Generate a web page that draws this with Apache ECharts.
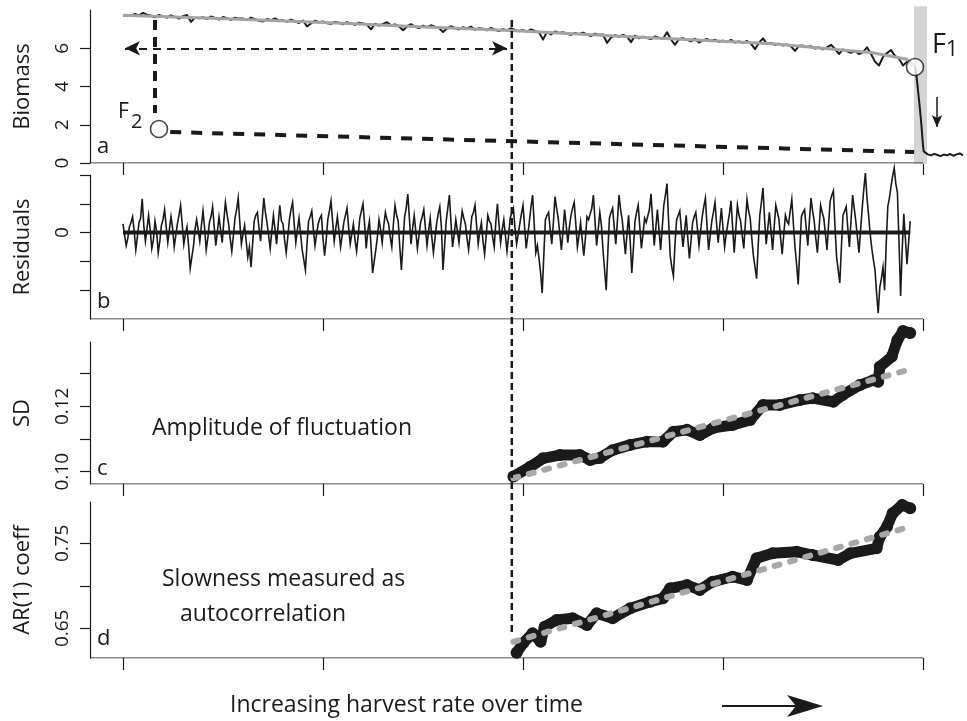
<!DOCTYPE html>
<html>
<head>
<meta charset="utf-8">
<script src="https://cdn.jsdelivr.net/npm/echarts@6/dist/echarts.min.js"></script>
<style>
  html, body { margin: 0; padding: 0; background: #fff; }
  #chart { width: 967px; height: 721px; }
</style>
</head>
<body>
<div id="chart"></div>
<script>
// ---- data ---------------------------------------------------------------
// time axis: harvest-rate steps; ticks every 250 steps
const xTicks = [0, 250, 500, 750, 1000];

// panel a: biomass sampled every 5 steps from t = 0 to t = 990
const biomassStep = 5;
const biomass = [
  7.70, 7.74, 7.68, 7.80, 7.72, 7.85, 7.76, 7.70, 7.62, 7.74,
  7.66, 7.60, 7.72, 7.64, 7.55, 7.68, 7.74, 7.38, 7.60, 7.57,
  7.62, 7.54, 7.66, 7.58, 7.50, 7.63, 7.57, 7.48, 7.60, 7.55,
  7.56, 7.47, 7.60, 7.52, 7.44, 7.40, 7.53, 7.47, 7.56, 7.44,
  7.46, 7.38, 7.50, 7.41, 7.32, 7.45, 7.14, 7.30, 7.44, 7.36,
  7.40, 7.31, 7.28, 7.38, 7.33, 7.25, 7.36, 7.30, 7.22, 7.34,
  7.30, 7.22, 6.99, 7.28, 7.18, 7.27, 7.36, 7.20, 7.24, 7.15,
  6.94, 7.14, 7.26, 7.12, 7.05, 7.18, 7.10, 7.20, 7.13, 7.06,
  6.85, 7.03, 7.15, 7.06, 6.98, 7.10, 7.04, 7.13, 6.96, 7.05,
  7.02, 6.94, 7.06, 6.97, 6.90, 7.00, 6.93, 7.04, 6.96, 6.89,
  6.95, 6.87, 6.98, 6.90, 6.84, 6.45, 6.86, 6.72, 6.88, 6.80,
  6.84, 6.76, 6.70, 6.80, 6.74, 6.82, 6.72, 6.64, 6.76, 6.70,
  6.72, 6.28, 6.55, 6.68, 6.60, 6.70, 6.62, 6.32, 6.66, 6.52,
  6.60, 6.54, 6.48, 6.62, 6.55, 6.50, 6.84, 6.46, 6.18, 6.49,
  6.52, 6.44, 6.36, 6.50, 6.30, 6.42, 6.48, 6.38, 6.44, 6.34,
  6.40, 6.32, 6.44, 6.30, 6.36, 6.28, 6.38, 6.24, 5.95, 6.29,
  6.52, 6.22, 6.28, 6.18, 6.24, 6.14, 6.20, 6.10, 5.86, 6.13,
  6.14, 6.06, 6.10, 5.98, 6.04, 5.94, 6.05, 6.18, 5.96, 5.70,
  5.94, 5.84, 5.76, 5.86, 5.70, 5.80, 6.05, 5.70, 5.30, 5.10,
  5.55, 5.75, 5.90, 5.60, 5.45, 5.10, 5.30, 5.18, 5.05
];
// collapse after the tipping point and the low-biomass state
const collapseTime = [992, 994, 996, 998, 1000, 1001, 1002.5, 1006, 1010, 1014, 1018, 1022, 1026, 1030, 1034, 1038, 1042, 1046, 1050];
const collapseBiomass = [4.5, 3.7, 2.9, 2.0, 0.9, 0.6, 0.5, 0.45, 0.40, 0.48, 0.42, 0.36, 0.44, 0.40, 0.47, 0.38, 0.45, 0.50, 0.40];
// smoothed biomass trend
const trendTime = [0, 121, 259, 371, 485, 652, 812, 937, 980, 990];
const trendBiomass = [7.72, 7.55, 7.33, 7.13, 6.93, 6.56, 6.24, 5.76, 5.42, 5.05];

// fold points: F2 (recovery) and F1 (collapse)
const foldTime = [45, 990];
const foldBiomass = [1.78, 5.02];
// unstable branch sketched between the folds
const branchTime = [59, 989];
const branchBiomass = [1.62, 0.575];
// hysteresis guide: F2 drop line and the double arrow
const guideTime = 40;
const guideBiomass = [7.48, 2.61];
const arrowTime = [2.5, 480];
const arrowBiomass = 6.0;
const dropTime = 1017.5;
const dropBiomass = [3.45, 1.88];
const bandTime = 996.9;
const bandBiomass = [8.2, -0.05];
// start of the indicator window
const windowStart = 486;

// panel b: residuals every 2 steps from t = 0 to t = 984
const residualStep = 2;
const residuals = [
  0.30, -0.10, -0.45, -0.20, 0.20, 0.35, 0.55, 0.05, -0.60, -0.15, 0.35, 0.50, 1.17, 0.25, -0.30, 0.15, 0.60, 0.10, -0.55, -0.25,
  0.40, 0.05, -0.70, -0.30, 0.25, 0.45, 0.80, 0.20, -0.35, 0.10, 0.55, 0.15, -0.50, -0.10, 0.30, 0.60, 0.95, 0.30, -0.40, -0.05,
  0.20, -0.45, -1.24, -0.85, -0.50, 0.10, 0.45, 0.10, -0.30, 0.25, 0.75, 0.15, -0.60, -0.20, 0.35, 0.55, 0.90, 0.20, -0.45, 0.05,
  0.55, 0.10, -0.35, 0.40, 1.05, 0.65, 0.30, -0.20, -0.65, -0.10, 0.50, 0.80, 1.20, 0.35, -0.40, -0.05, 0.25, -0.30, -0.85, -0.50,
  -1.20, -0.40, 0.40, 0.60, 0.70, 0.15, -0.30, 0.45, 1.20, 0.70, 0.35, -0.10, -0.55, 0.05, 0.60, 0.10, -0.40, 0.30, 0.95, 0.40,
  0.30, -0.25, -0.70, -0.15, 0.45, 0.80, 1.05, 0.30, -0.35, 0.10, 0.50, -0.05, -0.60, -0.95, -1.30, -0.40, 0.40, 0.55, 0.75, 0.10,
  -0.45, -0.05, 0.30, 0.50, 0.60, -0.20, -0.80, -0.25, 0.45, 0.75, 1.10, 0.40, -0.30, 0.15, 0.55, 0.05, -0.50, -0.10, 0.35, 0.60,
  0.85, 0.20, -0.40, -0.05, 0.30, -0.25, -0.65, -0.10, 0.50, 0.75, 1.00, 0.30, -0.55, 0.05, 0.40, -0.45, -1.40, -1.00, -0.60, -0.15,
  0.45, 0.10, -0.35, 0.25, 0.70, 0.45, 0.30, -0.15, -0.50, 0.30, 0.95, 0.60, 0.40, -0.50, -1.30, -0.35, 0.55, 0.85, 1.34, 0.50,
  -0.40, 0.15, 0.60, 0.05, -0.55, -0.10, 0.35, 0.55, 0.80, 0.15, -0.45, 0.05, 0.50, -0.15, -0.70, -0.20, 0.30, 0.65, 0.90, 0.20,
  -1.30, -0.45, 0.40, 0.85, 1.30, 0.35, -0.50, -0.05, 0.45, 0.05, -0.35, 0.25, 0.75, 0.50, 0.30, -0.20, -0.60, -0.05, 0.55, 0.70,
  0.95, 0.25, -0.40, 0.05, 0.35, -0.30, -0.75, -0.10, 0.60, 0.40, 0.30, -0.15, -0.50, 0.35, 1.00, 0.30, -0.35, 0.10, 0.45, -0.10,
  -0.65, -0.10, 0.50, 0.70, 0.85, 0.15, -0.40, -0.05, 0.30, 0.65, 0.95, 0.20, -0.55, -0.10, 0.40, 0.90, 1.30, 0.30, -0.70, -0.45,
  -0.90, -1.40, -2.10, -0.80, 0.45, 0.60, 0.70, 0.10, -0.40, 0.35, 1.25, 0.85, 0.50, -0.05, -0.60, 0.05, 0.80, 0.25, -0.35, 0.20,
  0.60, 0.85, 1.05, 0.30, -0.50, -0.10, 0.35, -0.25, -0.80, -0.20, 0.55, 0.45, 0.40, 0.85, 1.30, 0.40, -0.45, 0.10, 0.70, 0.25,
  -0.60, -1.30, -2.00, -0.70, 0.50, 0.70, 0.85, 0.20, -0.40, 0.40, 1.30, 0.80, 0.45, -0.15, -0.75, -0.05, 0.60, -0.30, -1.40, -0.55,
  0.40, 0.70, 0.95, 0.20, -0.55, -0.05, 0.50, 0.35, 0.30, 0.80, 1.35, 0.45, -0.45, 0.15, 0.80, 0.10, -0.60, 0.15, 0.95, 1.30,
  1.70, 0.40, -0.80, -1.20, -1.50, -0.40, 0.45, 0.60, 0.75, 0.10, -0.50, 0.05, 0.60, -0.20, -0.90, -0.30, 0.35, 0.55, 0.70, 0.15,
  -0.45, 0.05, 0.55, 0.90, 1.20, 0.25, -0.60, -0.10, 0.40, 0.70, 1.05, 0.30, -0.35, 0.25, 0.85, 0.15, -0.50, -0.05, 0.30, 0.65,
  1.10, 0.20, -0.70, 0.10, 0.95, 0.60, 0.40, -0.10, -0.55, 0.35, 1.15, 0.75, 0.50, -0.20, -0.80, -1.20, -1.60, -0.45, 0.60, 1.05,
  1.55, 0.45, -0.40, 0.15, 0.70, 0.05, -0.60, 0.20, 0.95, 0.70, 0.45, -0.20, -0.75, -0.05, 0.60, 0.40, 0.30, 0.75, 1.15, 0.30,
  -0.50, -1.10, -1.80, -0.60, 0.55, 0.70, 0.80, 0.15, -0.45, 0.40, 1.20, 0.75, 0.40, -0.20, -0.70, 0.10, 0.95, 0.70, 0.50, -0.05,
  -0.60, 0.30, 1.10, 1.30, 1.45, 0.20, -0.85, -1.30, -1.75, -0.50, 0.60, 0.75, 0.90, 0.15, -0.50, 0.40, 1.30, 0.85, 0.40, -0.15,
  -0.70, 0.10, 0.85, 1.50, 2.07, 1.20, 0.60, -0.05, -0.55, -0.95, -1.30, -2.10, -2.80, -1.90, -1.60, -1.20, -2.00, -0.40, 0.90, 1.20,
  1.60, 1.95, 2.24, 1.70, 1.40, -0.30, -2.20, -0.60, 0.65, -0.20, -1.10, -0.35, 0.40
];

// panel c: rolling standard deviation
const sdTime = [488, 509, 525, 546, 571, 584, 596, 612, 634, 655, 675, 688, 705, 721, 738, 762, 784, 800, 821, 846, 862, 888, 900, 921, 938, 944, 946, 961, 968, 975, 984];
const sdValues = [0.0985, 0.1015, 0.1041, 0.1051, 0.1051, 0.1036, 0.1042, 0.1066, 0.1082, 0.1092, 0.1092, 0.1122, 0.1128, 0.1112, 0.1134, 0.1143, 0.1158, 0.1204, 0.1204, 0.1219, 0.1225, 0.1214, 0.1235, 0.1265, 0.1280, 0.1275, 0.1321, 0.1352, 0.1403, 0.1430, 0.1424];
const sdFitTime = [488, 981];
const sdFit = [0.0980, 0.1311];

// panel d: rolling lag-1 autocorrelation
const arTime = [492, 500, 512, 522, 527, 542, 562, 580, 592, 612, 634, 659, 675, 684, 705, 721, 737, 762, 780, 792, 812, 842, 862, 894, 909, 942, 946, 955, 962, 974, 984];
const arValues = [0.6213, 0.6324, 0.6441, 0.6342, 0.6519, 0.6598, 0.6618, 0.6539, 0.6676, 0.6618, 0.6735, 0.6813, 0.6853, 0.6971, 0.7009, 0.6951, 0.7048, 0.7107, 0.7068, 0.7324, 0.7382, 0.7401, 0.7362, 0.7304, 0.7382, 0.7441, 0.7578, 0.7695, 0.7853, 0.7951, 0.7912];
const arFitTime = [488, 981];
const arFit = [0.6342, 0.7688];

// y-axis ranges, ticks and labels per panel
const biomassRange = [0, 8];
const biomassTicks = [0, 2, 4, 6];
const residualRange = [-3, 2];
const residualTicks = [-2, -1, 0, 1, 2];
const residualLabels = [0];
const sdRange = [0.09624, 0.13967];
const sdTicks = [0.10, 0.11, 0.12, 0.13];
const sdLabels = [0.10, 0.12];
const arRange = [0.6151, 0.7986];
const arTicks = [0.65, 0.70, 0.75];
const arLabels = [0.65, 0.75];

// ---- helpers ------------------------------------------------------------
const X_MIN = -41.25, X_MAX = 1053.75, AXIS_END = 1000;
const FONT = '"Open Sans", "DejaVu Sans", sans-serif';
const INK = '#1a1a1a';
const zip = (xs, ys) => xs.map((x, i) => [x, ys[i]]);

const biomassData = biomass.map((v, i) => [i * biomassStep, v]).concat(zip(collapseTime, collapseBiomass));
const residualData = residuals.map((v, i) => [i * residualStep, v]);

const grids = [
  { left: 90, top: 10, width: 876, height: 153 },
  { left: 90, top: 175, width: 876, height: 144 },
  { left: 90, top: 342, width: 876, height: 142 },
  { left: 90, top: 502, width: 876, height: 156 }
];

function xAxisFor(gi) {
  return {
    type: 'value', gridIndex: gi, min: X_MIN, max: X_MAX,
    axisLine: { show: false, onZero: false },
    axisTick: { show: true, inside: false, length: 12, customValues: xTicks,
                lineStyle: { color: INK, width: 1.2 } },
    axisLabel: { show: false },
    splitLine: { show: false }
  };
}

function yAxisFor(gi, range, ticks, labels, name, fmt) {
  return {
    type: 'value', gridIndex: gi, min: range[0], max: range[1],
    name: name, nameLocation: 'middle', nameGap: 56, nameRotate: 90,
    nameTextStyle: { fontFamily: FONT, fontSize: 22, color: INK },
    axisLine: { show: true, onZero: false, lineStyle: { color: INK, width: 1.2 } },
    axisTick: { show: true, inside: false, length: 10, customValues: ticks,
                lineStyle: { color: INK, width: 1.2 } },
    axisLabel: { show: true, customValues: labels, rotate: 90, margin: 18,
                 fontFamily: FONT, fontSize: 19, color: INK, formatter: fmt },
    splitLine: { show: false }
  };
}

function baseLine(gi, yMin) {
  return {
    type: 'line', xAxisIndex: gi, yAxisIndex: gi, silent: true, symbol: 'none',
    data: [[X_MIN, yMin], [AXIS_END, yMin]],
    lineStyle: { color: INK, width: 1.2 }, z: 1
  };
}

function plain(gi, data, style, extra) {
  return Object.assign({
    type: 'line', xAxisIndex: gi, yAxisIndex: gi, silent: true, symbol: 'none',
    clip: false, data: data, lineStyle: style
  }, extra || {});
}

const fix2 = v => Number(v).toFixed(2);

const option = {
  animation: false,
  backgroundColor: '#fff',
  grid: grids,
  xAxis: [xAxisFor(0), xAxisFor(1), xAxisFor(2), xAxisFor(3)],
  yAxis: [
    yAxisFor(0, biomassRange, biomassTicks, biomassTicks, 'Biomass', v => String(v)),
    yAxisFor(1, residualRange, residualTicks, residualLabels, 'Residuals', v => String(v)),
    yAxisFor(2, sdRange, sdTicks, sdLabels, 'SD', fix2),
    yAxisFor(3, arRange, arTicks, arLabels, 'AR(1) coeff', fix2)
  ],
  series: [
    // panel a
    plain(0, [[bandTime, bandBiomass[0]], [bandTime, bandBiomass[1]]],
          { color: '#d4d4d4', width: 13, cap: 'butt' }, { z: 0 }),
    baseLine(0, biomassRange[0]),
    plain(0, biomassData, { color: INK, width: 2, join: 'round' }, { z: 3 }),
    plain(0, zip(trendTime, trendBiomass), { color: '#a3a3a3', width: 3 }, { z: 4 }),
    plain(0, zip(branchTime, branchBiomass), { color: INK, width: 4, type: [11, 10] }, {
      z: 5,
      markLine: {
        silent: true, animation: false, label: { show: false },
        symbol: ['none', 'arrow'], symbolSize: [8, 12],
        lineStyle: { color: INK, width: 1.5, type: 'solid' },
        data: [[{ coord: [dropTime, dropBiomass[0]] }, { coord: [dropTime, dropBiomass[1]] }]]
      }
    }),
    plain(0, [[guideTime, guideBiomass[0]], [guideTime, guideBiomass[1]]],
          { color: INK, width: 4, type: [10, 7] }, {
      z: 5,
      markLine: {
        silent: true, animation: false, label: { show: false },
        symbol: ['arrow', 'arrow'], symbolSize: [11, 15],
        lineStyle: { color: INK, width: 2, type: [8, 6] },
        data: [[{ coord: [arrowTime[0], arrowBiomass] }, { coord: [arrowTime[1], arrowBiomass] }]]
      }
    }),
    {
      type: 'scatter', xAxisIndex: 0, yAxisIndex: 0, silent: true, clip: false,
      data: zip(foldTime, foldBiomass), symbol: 'circle', symbolSize: 17,
      itemStyle: { color: '#fff', borderColor: INK, borderWidth: 1.6 }, z: 10
    },
    // panel b
    baseLine(1, residualRange[0]),
    plain(1, residualData, { color: INK, width: 1.6, join: 'miter' }, { z: 3 }),
    plain(1, [[0, 0], [(residuals.length - 1) * residualStep, 0]], { color: INK, width: 4 }, { z: 4 }),
    // panel c
    baseLine(2, sdRange[0]),
    plain(2, zip(sdTime, sdValues), { color: INK, width: 11, cap: 'round', join: 'round' },
          { z: 3, symbol: 'circle', symbolSize: 12, showSymbol: true, itemStyle: { color: INK } }),
    plain(2, zip(sdFitTime, sdFit), { color: '#a8a8a8', width: 6, type: [5, 11], cap: 'round' }, { z: 4 }),
    // panel d
    baseLine(3, arRange[0]),
    plain(3, zip(arTime, arValues), { color: INK, width: 11, cap: 'round', join: 'round' },
          { z: 3, symbol: 'circle', symbolSize: 12, showSymbol: true, itemStyle: { color: INK } }),
    plain(3, zip(arFitTime, arFit), { color: '#a8a8a8', width: 6, type: [5, 11], cap: 'round' }, { z: 4 })
  ]
};

const chart = echarts.init(document.getElementById('chart'), null, { renderer: 'canvas' });
chart.setOption(option);

// annotation text and the window-start line that spans all panels
function label(text, x, y, size) {
  return {
    type: 'text', x: x, y: y, silent: true, z: 20,
    style: { text: text, font: size + 'px ' + FONT, fill: INK,
             align: 'left', verticalAlign: 'middle' }
  };
}

const windowTop = chart.convertToPixel({ gridIndex: 0 }, [windowStart, 7.48]);
const windowBottom = chart.convertToPixel({ gridIndex: 3 }, [windowStart, 0.6421]);

chart.setOption({
  graphic: [
    {
      type: 'line', silent: true, z: 15,
      shape: { x1: windowTop[0], y1: windowTop[1], x2: windowBottom[0], y2: windowBottom[1] },
      style: { stroke: INK, lineWidth: 2.5, lineDash: [7, 4] }
    },
    label('a', 97, 147, 22),
    label('b', 97, 302, 22),
    label('c', 97, 469, 22),
    label('d', 97, 639, 22),
    label('F', 118, 112, 21),
    label('2', 131, 122, 20),
    label('F', 932, 45, 27),
    label('1', 946, 50, 21),
    label('Amplitude of fluctuation', 152, 428, 23),
    label('Slowness measured as', 162, 579, 23),
    label('autocorrelation', 180, 614, 23),
    label('Increasing harvest rate over time', 230, 705, 23),
    {
      type: 'line', silent: true,
      shape: { x1: 722, y1: 706, x2: 800, y2: 706 },
      style: { stroke: INK, lineWidth: 2.2 }
    },
    {
      type: 'polygon', silent: true,
      shape: { points: [[787, 695], [823, 706], [787, 717], [796, 706]] },
      style: { fill: INK }
    }
  ]
});
</script>
</body>
</html>
